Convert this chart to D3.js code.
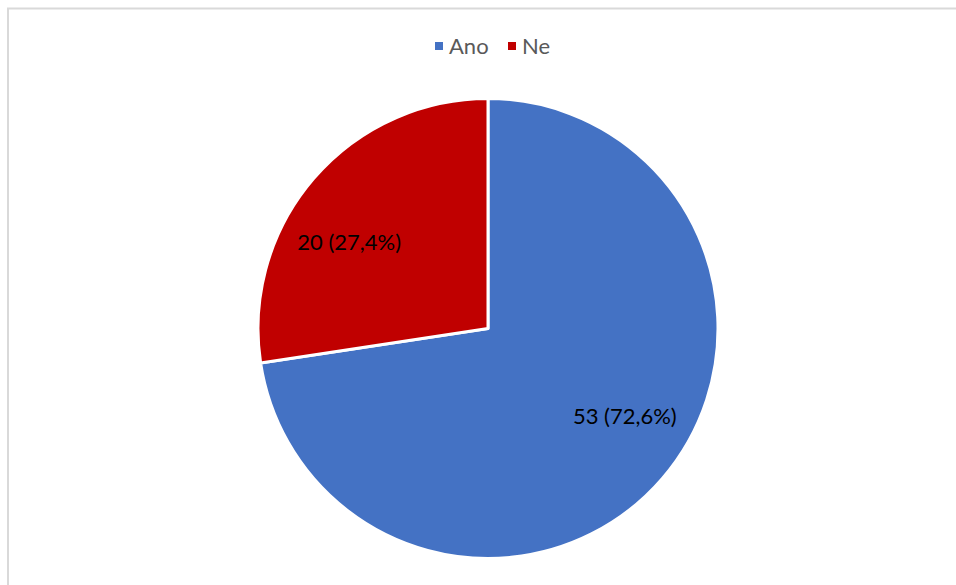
<!DOCTYPE html>
<html>
<head>
<meta charset="utf-8">
<script src="https://cdn.jsdelivr.net/npm/d3@7"></script>
<style>
  body { margin: 0; background: #fff; }
  svg { display: block; }
</style>
</head>
<body>
<div id="chart"></div>
<script>
// Pie chart: answers "Ano" / "Ne"

// Data
const categories = ["Ano", "Ne"];
const counts = [53, 20];
const percentLabels = ["72,6%", "27,4%"];
const colours = ["#4472C4", "#C00000"];

const width = 956;
const height = 585;
const cx = 488;
const cy = 328.5;
const radius = 230;

var graph = d3.create("svg")
    .attr("width", width)
    .attr("height", height);

// Chart border (runs off the right and bottom edge)
graph.append("rect")
    .attr("x", 8)
    .attr("y", 8.5)
    .attr("width", width + 20)
    .attr("height", height + 20)
    .attr("fill", "none")
    .attr("stroke", "#d9d9d9")
    .attr("stroke-width", 2);

const colour = d3.scaleOrdinal()
    .domain(categories)
    .range(colours);

const data = categories.map((c, i) => ({ category: c, count: counts[i], pct: percentLabels[i] }));

const pie = d3.pie()
    .sort(null)
    .value(d => d.count);

const arc = d3.arc()
    .innerRadius(0)
    .outerRadius(radius);

const labelArc = d3.arc()
    .innerRadius(radius * 0.71)
    .outerRadius(radius * 0.71);

// small nudges so labels sit where Excel put them
const nudge = { Ano: [13, -19], Ne: [-15, 19] };

const g = graph.append("g")
    .attr("transform", `translate(${cx},${cy})`);

const arcs = pie(data);

g.selectAll("path")
    .data(arcs)
    .join("path")
    .attr("d", arc)
    .attr("fill", d => colour(d.data.category))
    .attr("stroke", "#fff")
    .attr("stroke-width", 3)
    .attr("stroke-linejoin", "round");

g.selectAll("text.lbl")
    .data(arcs)
    .join("text")
    .attr("class", "lbl")
    .attr("transform", d => {
        const [x, y] = labelArc.centroid(d);
        const [dx, dy] = nudge[d.data.category];
        return `translate(${x + dx},${y + dy})`;
    })
    .attr("text-anchor", "middle")
    .attr("dominant-baseline", "central")
    .attr("font-family", "Lato, 'Open Sans', sans-serif")
    .attr("font-size", 22)
    .attr("fill", "#000")
    .text(d => `${d.data.count} (${d.data.pct})`);

// Legend
const legend = graph.append("g")
    .attr("font-family", "Lato, 'Open Sans', sans-serif")
    .attr("font-size", 22)
    .attr("fill", "#595959");

const legendX = [435, 508];
categories.forEach((c, i) => {
    legend.append("rect")
        .attr("x", legendX[i])
        .attr("y", 42)
        .attr("width", 8)
        .attr("height", 8)
        .attr("fill", colour(c));
    legend.append("text")
        .attr("x", legendX[i] + 14)
        .attr("y", 45)
        .attr("dominant-baseline", "central")
        .text(c);
});

chart.append(graph.node());
</script>
</body>
</html>
